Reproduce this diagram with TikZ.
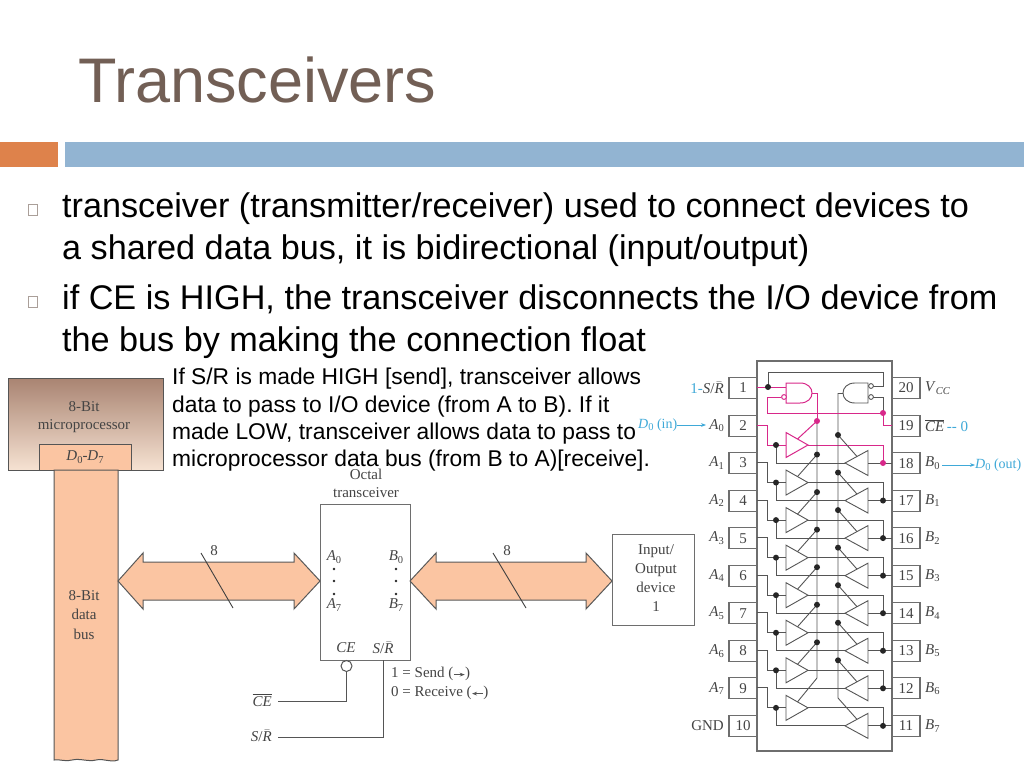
\documentclass[tikz,border=0pt]{standalone}
\usepackage[no-math]{fontspec}
\usepackage{amsmath}
\setmainfont{Liberation Sans}
\newfontfamily\dgf{Liberation Serif}
\usetikzlibrary{arrows.meta}
\definecolor{titlec}{HTML}{725F55}
\definecolor{orangebar}{HTML}{DE824B}
\definecolor{bluebar}{HTML}{92B4D2}
\definecolor{peach}{HTML}{FBC5A2}
\definecolor{wire}{HTML}{555555}
\definecolor{boxc}{HTML}{6E6E6E}
\definecolor{pinkw}{HTML}{D8288A}
\definecolor{bluew}{HTML}{3FA9D8}
\definecolor{dgt}{HTML}{444444}
\newcommand{\sbs}[1]{\raisebox{-2.5pt}{\fontsize{10.5}{11}\selectfont #1}}
\tikzset{
  lb/.style={font=\dgf\fontsize{15}{16}\selectfont,text=dgt,inner sep=0pt},
  body/.style={font=\fontsize{34.2}{34}\selectfont,text=black,anchor=base west,inner sep=0pt},
  ann/.style={font=\fontsize{22.8}{22}\selectfont,text=black,anchor=base west,inner sep=0pt},
  w/.style={draw=wire,line width=0.9pt},
  pk/.style={draw=pinkw,line width=1pt},
  box/.style={draw=boxc,line width=0.95pt,fill=white,inner sep=0pt},
  pin/.style={draw=boxc,line width=1.1pt,minimum width=28pt,minimum height=21pt,inner sep=0pt,font=\dgf\fontsize{15}{16}\selectfont,text=dgt},
  dot/.style={circle,fill=black!85,inner sep=0pt,minimum size=6pt},
  pdot/.style={circle,fill=pinkw,inner sep=0pt,minimum size=6pt},
  bulletb/.style={draw=titlec!60,line width=0.6pt,fill=white,inner sep=0pt,minimum width=9pt,minimum height=11pt},
  bigarrow/.style={draw=black!65,line width=1pt,fill=peach},
}
\newcommand{\busarrow}[4]{%
  \draw[bigarrow] (#1,581) -- (#2,553) -- (#2,562) -- (#3,562) -- (#3,553) -- (#4,581)
    -- (#3,609) -- (#3,600) -- (#2,600) -- (#2,609) -- cycle;
}
\begin{document}
\begin{tikzpicture}[x=1pt,y=-1pt]
\useasboundingbox (0,0) rectangle (1024,767);
\fill[white] (0,0) rectangle (1024,767);
% header
\node[font=\fontsize{63}{62}\selectfont,text=titlec,anchor=base west,inner sep=0pt] (title) at (78,103) {Transceivers};
\fill[orangebar] (0,142) rectangle (58,167);
\fill[bluebar] (64.5,142) rectangle (1024,167);
% bullets
\node[bulletb] (b1) at (32.5,210) {};
\node[bulletb] (b2) at (32.5,302) {};
\node[body] (t1) at (62,218) {transceiver (transmitter/receiver) used to connect devices to};
\node[body] (t2) at (62,259) {a shared data bus, it is bidirectional (input/output)};
\node[body] (t3) at (62,309) {if CE is HIGH, the transceiver disconnects the I/O device from};
\node[body] (t4) at (62,351) {the bus by making the connection float};
% microprocessor
\definecolor{mtop}{HTML}{A98472}
\definecolor{mmid}{HTML}{DDBBA3}
\definecolor{mbot}{HTML}{F6E2D2}
\shade[top color=mtop,middle color=mmid,bottom color=mbot] (8,378) rectangle (163,470);
\draw[wire,line width=1pt] (8,378) rectangle (163,470);
\node[lb] (m1) at (84,407) {8-Bit};
\node[lb] (m2) at (84,426) {microprocessor};
\node[draw=wire,line width=1pt,fill=peach,minimum width=92pt,minimum height=26pt,inner sep=0pt,lb] (dd) at (85,457) {\textit{D}\sbs{0}-\textit{D}\sbs{7}};
% data bus
\draw[draw=wire,line width=1pt,fill=peach] (54,470) -- (118,470) -- (118,760)
  .. controls (110,763) and (104,758) .. (96,760)
  .. controls (88,762) and (80,758) .. (72,760)
  .. controls (66,762) and (60,759) .. (54,760) -- cycle;
\node[lb,align=center,text width=60pt] (bus) at (84,615) {8-Bit\\[3.5pt]data\\[3.5pt]bus};
% transceiver
\node[box,minimum width=90pt,minimum height=156pt] (tr) at (365,582) {};
\node[lb] (oc1) at (366,474) {Octal};
\node[lb] (oc2) at (366,493) {transceiver};
\node[lb] (a0) at (334,557) {\textit{A}\sbs{0}};
\node[lb] (a7) at (334,605) {\textit{A}\sbs{7}};
\node[lb] (b0) at (396,557) {\textit{B}\sbs{0}};
\node[lb] (b7) at (396,605) {\textit{B}\sbs{7}};
\foreach \x in {334,396}\foreach \y in {569,581,594}{\fill[black!85] (\x,\y) circle (1.3pt);}
\node[lb] (ce) at (346,648) {\textit{CE}};
\node[lb] (sr) at (383,648) {\textit{S}/$\bar{\textit{R}}$};
% bus arrows
\busarrow{118}{143}{294}{320}
\busarrow{410}{436}{586}{612}
\draw[draw=black!75,line width=0.9pt] (201,553) -- (233,608);
\draw[draw=black!75,line width=0.9pt] (493,553) -- (526,608);
\node[lb] (n8a) at (214,551) {8};
\node[lb] (n8b) at (507,551) {8};
% io
\node[box,minimum width=82pt,minimum height=91pt] (io) at (653,579.5) {};
\node[lb,align=center] (iot) at (656,578) {Input/\\[3.2pt]Output\\[3.2pt]device\\[3.2pt]1};
% control
\node[draw=wire,line width=1pt,fill=white,circle,inner sep=0pt,minimum size=11pt] (bub) at (346.5,666) {};
\node[lb,anchor=east] (cel) at (272,700) {$\overline{\textit{CE}}$};
\node[lb,anchor=east] (srl) at (272,736) {\textit{S}/$\bar{\textit{R}}$};
\coordinate (cef) at (278,701);
\coordinate (srf) at (278,737);
\coordinate (srt) at (383,660);
\draw[w] (bub.south) |- (cef);
\draw[w] (srt) |- (srf);
\node[lb,anchor=west] (s1) at (391,674) {1 = Send (\tikz[baseline=-3pt]\draw[-{Stealth[length=5pt]},wire,line width=0.7pt] (0,0)--(11pt,0);)};
\node[lb,anchor=west] (s2) at (391,693) {0 = Receive (\tikz[baseline=-3pt]\draw[-{Stealth[length=5pt]},wire,line width=0.7pt] (11pt,0)--(0,0);)};
% annotation
\node[ann] (an1) at (172,384) {If S/R is made HIGH [send], transceiver allows};
\node[ann] (an2) at (172,412) {data to pass to I/O device (from A to B). If it};
\node[ann] (an3) at (172,439) {made LOW, transceiver allows data to pass to};
\node[ann] (an4) at (172,466) {microprocessor data bus (from B to A)[receive].};
% chip
\node[box,line width=1.1pt,minimum width=135pt,minimum height=390pt] (chip) at (824.5,556) {};
% pins
\foreach \n [count=\k from 0] in {1,...,10}{
  \pgfmathsetmacro\yy{388+37.55*\k}
  \node[pin] (L\n) at (743,\yy) {\n};
}
\foreach \n/\l [count=\k from 1] in {2/{\textit{A}\sbs{0}},3/{\textit{A}\sbs{1}},4/{\textit{A}\sbs{2}},5/{\textit{A}\sbs{3}},6/{\textit{A}\sbs{4}},7/{\textit{A}\sbs{5}},8/{\textit{A}\sbs{6}},9/{\textit{A}\sbs{7}},10/{GND}}{
  \pgfmathsetmacro\yy{388+37.55*\k}
  \node[lb,anchor=east] (LL\n) at (724,\yy) {\l};
}
\foreach \n/\l [count=\k from 0] in {20/{\textit{V}\sbs{\textit{CC}}},19/{$\overline{\textit{CE}}$\,\textcolor{bluew}{-- 0}},18/{\textit{B}\sbs{0}},17/{\textit{B}\sbs{1}},16/{\textit{B}\sbs{2}},15/{\textit{B}\sbs{3}},14/{\textit{B}\sbs{4}},13/{\textit{B}\sbs{5}},12/{\textit{B}\sbs{6}},11/{\textit{B}\sbs{7}}}{
  \pgfmathsetmacro\yy{388+37.55*\k}
  \node[pin] (R\n) at (906,\yy) {\n};
  \node[lb,anchor=west] (RL\n) at (925,\yy) {\l};
}
% blue labels
\node[lb,anchor=east] (srp) at (724,388) {\textcolor{bluew}{1-}\textit{S}/$\bar{\textit{R}}$};
\node[lb,anchor=west,text=bluew,font=\dgf\fontsize{14}{15}\selectfont] (din) at (638,425) {\textit{D}\sbs{0} (in)};
\coordinate (dinend) at (706,425);
\draw[bluew,line width=0.9pt,-{Stealth[length=5pt]}] (din) -- (dinend);
\node[lb,anchor=west,text=bluew,font=\dgf\fontsize{14}{15}\selectfont] (dout) at (975,465) {\textit{D}\sbs{0} (out)};
\coordinate (doutst) at (942,465);
\draw[bluew,line width=0.9pt,-{Stealth[length=5pt]}] (doutst) -- (dout);
% bit slices
\foreach \i in {0,...,7}{
  \pgfmathsetmacro\pa{425+37.55*\i}
  \pgfmathsetmacro\cl{445+37.55*\i}
  \pgfmathsetmacro\cr{463+37.55*\i}
  \pgfmathsetmacro\ena{\cl-(\i==0?24:28)}
  \pgfmathsetmacro\enb{\cr-28}
  \coordinate (ap\i) at (757,\pa);
  \coordinate (dl\i) at (776,\cl);
  \coordinate (lin\i) at (786,\cl);
  \coordinate (lout\i) at (808,\cl);
  \coordinate (rin\i) at (868,\cr);
  \coordinate (rout\i) at (845,\cr);
  \coordinate (dr\i) at (883,\cr);
  \coordinate (bp\i) at (892,\cr);
  \coordinate (lc\i) at (797.5,\cl-6);
  \coordinate (rc\i) at (857,\cr-6.5);
  \coordinate (ea\i) at (817,\ena);
  \coordinate (eb\i) at (838,\enb);
  \ifnum\i=0
    \draw[pk] (ap\i) -- ++(10,0) |- (lin\i);
    \draw[pk,fill=white] (786,\cl-12.5) -- (lout\i) -- (786,\cl+12.5) -- cycle;
    \draw[pk] (lout\i) -| (dr\i);
    \draw[pk] (ea\i) -- (lc\i);
  \else
    \draw[w] (ap\i) -- ++(10,0) |- (lin\i);
    \draw[w,fill=white] (786,\cl-12.5) -- (lout\i) -- (786,\cl+12.5) -- cycle;
    \draw[w] (lout\i) -| (dr\i);
    \ifnum\i<7
      \draw[w] (ea\i) -- (lc\i);
    \fi
  \fi
  \draw[w] (dl\i) |- (rout\i);
  \draw[w,fill=white] (868,\cr-12.5) -- (rout\i) -- (868,\cr+12.5) -- cycle;
  \draw[w] (rin\i) -- (bp\i);
  \ifnum\i<7 \draw[w] (eb\i) -- (rc\i); \fi
  \node[dot] at (dl\i) {};
  \ifnum\i=0 \node[pdot] at (dr\i) {}; \else \node[dot] at (dr\i) {}; \fi
}
% enable buses
\coordinate (busAtop) at (817,393);
\coordinate (busBtop) at (838,393);
\draw[w] (ea0) -- (817,678) -- (lc7);
\draw[w] (busBtop) -- (838,698) -- (rc7);
\foreach \i in {1,...,6}{\node[dot] at (ea\i) {};}
\foreach \i in {0,...,6}{\node[dot] at (eb\i) {};}
\node[pdot] at (ea0) {};
% control gates
\coordinate (in1) at (757,387);
\coordinate (gA1) at (786,387);
\coordinate (gA2) at (781,397);
\coordinate (gB1) at (873,386);
\coordinate (gB2) at (873,397);
\coordinate (pkd) at (883,413);
\coordinate (p19) at (892,425);
\draw[pk] (in1) -- (gA1);
\draw[w] (768,387) -- (768,372) -- (883,372) -- (883,386) -- (gB1);
\draw[pk] (gA2) -- (767,397) -- (767,413) -- (pkd);
\draw[pk] (812,393) -- (busAtop) -- (ea0);
\draw[pk] (pkd) -- (883,425) -- (p19);
\draw[w] (gB2) -- (883,397) -- (pkd);
\draw[pk,fill=white] (786,383) -- (800,383) .. controls (816,383) and (816,403) .. (800,403) -- (786,403) -- cycle;
\draw[pk,fill=white] (784,397) circle (2.4pt);
\draw[w,fill=white] (868,383) -- (855,383) .. controls (839,383) and (839,403) .. (855,403) -- (868,403) -- cycle;
\draw[w,fill=white] (871,386) circle (2.4pt);
\draw[w,fill=white] (871,397) circle (2.4pt);
\draw[w] (busBtop) -- (843,393);
\node[dot] at (768,387) {};
\node[pdot] at (pkd) {};
\end{tikzpicture}
\end{document}
